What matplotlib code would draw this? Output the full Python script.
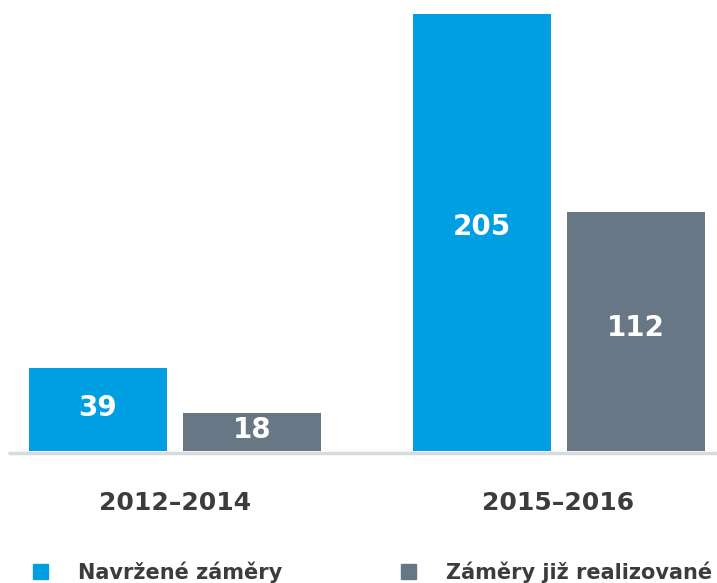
import matplotlib.pyplot as plt
from matplotlib.patches import Patch
import numpy as np

# data
periods = ['2012–2014', '2015–2016']
navrzene = [39, 205]
realizovane = [18, 112]
series_names = ['Navržené záměry', 'Záměry již realizované']

BLUE = '#009fe3'
GREY = '#687786'
TEXT = '#3c3c3c'

plt.rcParams['font.family'] = ['DejaVu Sans']
plt.rcParams['font.weight'] = 'bold'

fig = plt.figure(figsize=(7.17, 5.83), dpi=100)
ax = fig.add_axes([0, 0, 1, 1])

# pixel layout -> data limits (2.132 px per unit, 383.5 px per group)
px_y = 2.132
px_x = 383.5
ax.set_ylim(-(583 - 451) / px_y, 451 / px_y)
ax.set_xlim(-175 / px_x, 1 + (717 - 558.5) / px_x)
ax.axis('off')

x = np.arange(len(periods))
w = 138 / px_x
off = 77 / px_x
b1 = ax.bar(x - off, navrzene, w, color=BLUE)
b2 = ax.bar(x + off, realizovane, w, color=GREY)

for bars, vals in ((b1, navrzene), (b2, realizovane)):
    for rect, v in zip(bars, vals):
        ax.text(rect.get_x() + rect.get_width() / 2, v / 2 + 0.5 + v * 0.01,
                str(v), ha='center', va='center', color='white', fontsize=20,
                fontweight='bold')

# baseline
ax.plot([-167 / px_x, ax.get_xlim()[1]], [-1.0, -1.0], color='#d9dadc',
        lw=2.5, solid_capstyle='butt', clip_on=False)

for xi, label in zip(x, periods):
    ax.text(xi, -(503 - 451) / px_y, label, ha='center', va='center',
            color=TEXT, fontsize=18, fontweight='bold')

handles = [Patch(color=BLUE), Patch(color=GREY)]
leg = fig.legend(handles, series_names, ncol=2, loc='center left',
                 bbox_to_anchor=(33 / 717, 1 - 572 / 583), frameon=False,
                 fontsize=15, handlelength=0.72, handleheight=0.72,
                 handletextpad=1.45, columnspacing=5.68, borderpad=0,
                 borderaxespad=0)
for t in leg.get_texts():
    t.set_color(TEXT)
    t.set_fontweight('bold')

fig.savefig('out.png', dpi=100)
